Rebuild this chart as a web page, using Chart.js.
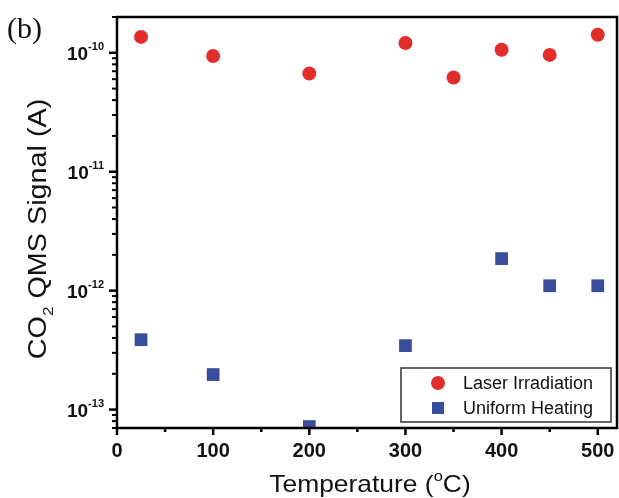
<!DOCTYPE html>
<html>
<head>
<meta charset="utf-8">
<script src="https://cdn.jsdelivr.net/npm/chart.js@4.4.0/dist/chart.umd.min.js"></script>
<style>
  html, body { margin: 0; padding: 0; background: #fff; }
  #wrap { width: 619px; height: 498px; }
</style>
</head>
<body>
<div id="wrap"><canvas id="chart" width="619" height="498"></canvas></div>
<script>
// data
const temps = [25, 100, 200, 300, 350, 400, 450, 500];
const laserSignal = [1.36e-10, 0.94e-10, 6.7e-11, 1.21e-10, 6.2e-11, 1.06e-10, 0.96e-10, 1.42e-10];
const heatTemps = [25, 100, 200, 300, 400, 450, 500];
const heatSignal = [3.87e-13, 1.97e-13, 7.2e-14, 3.45e-13, 1.86e-12, 1.1e-12, 1.1e-12];
const xTicks = [0, 100, 200, 300, 400, 500];
const yDecades = [-13, -12, -11, -10];

const RED = "#e22d2d";
const BLUE = "#3a4d9c";
const SANS = "Arial, 'Liberation Sans', sans-serif";

// text pieces with optional super/subscript, stretched a bit like the figure
function richText(ctx, parts, x, y, stretch) {
  let total = 0;
  parts.forEach(p => { ctx.font = p.font; total += ctx.measureText(p.text).width; });
  ctx.save();
  ctx.translate(x, y);
  ctx.scale(stretch, 1);
  let cx = -total / 2;
  parts.forEach(p => {
    ctx.font = p.font;
    ctx.fillText(p.text, cx, p.dy || 0);
    cx += ctx.measureText(p.text).width;
  });
  ctx.restore();
}

const decor = {
  id: "decor",
  afterDraw(chart) {
    const ctx = chart.ctx;
    const a = chart.chartArea;
    const xs = chart.scales.x, ys = chart.scales.y;
    ctx.save();
    ctx.strokeStyle = "#000";
    ctx.fillStyle = "#111";

    // frame
    ctx.lineWidth = 2.5;
    ctx.strokeRect(a.left, a.top, a.right - a.left, a.bottom - a.top);

    // x ticks
    for (let v = 0; v <= 520; v += 50) {
      const px = xs.getPixelForValue(v);
      const len = v % 100 === 0 ? 7 : 4;
      ctx.beginPath();
      ctx.moveTo(px, a.bottom);
      ctx.lineTo(px, a.bottom + len);
      ctx.stroke();
    }
    ctx.font = "bold 20px " + SANS;
    ctx.textAlign = "center";
    ctx.textBaseline = "alphabetic";
    xTicks.forEach(v => {
      ctx.fillText(String(v), xs.getPixelForValue(v), 457);
    });

    // y ticks
    ys.ticks.forEach(t => {
      const py = ys.getPixelForValue(t.value);
      ctx.lineWidth = t.major ? 2.5 : 2;
      ctx.beginPath();
      ctx.moveTo(a.left, py);
      ctx.lineTo(a.left - (t.major ? 8 : 5), py);
      ctx.stroke();
    });
    ctx.textAlign = "left";
    yDecades.forEach(e => {
      const py = ys.getPixelForValue(Math.pow(10, e));
      const exp = String(e);
      ctx.font = "bold 11px " + SANS;
      const ew = ctx.measureText(exp).width;
      ctx.font = "bold 19px " + SANS;
      const bw = ctx.measureText("10").width;
      const right = a.left - 13;
      ctx.fillText("10", right - ew - bw, py + 7);
      ctx.font = "bold 11px " + SANS;
      ctx.fillText(exp, right - ew, py - 3);
    });

    // x title
    ctx.textAlign = "left";
    richText(ctx, [
      { text: "Temperature (", font: "24px " + SANS },
      { text: "o", font: "15px " + SANS, dy: -11 },
      { text: "C)", font: "24px " + SANS }
    ], (a.left + a.right) / 2 + 3, 492, 1.1);

    // y title
    ctx.save();
    ctx.translate(46, 229);
    ctx.rotate(-Math.PI / 2);
    richText(ctx, [
      { text: "CO", font: "25px " + SANS },
      { text: "2", font: "15px " + SANS, dy: 7 },
      { text: " QMS Signal (A)", font: "25px " + SANS }
    ], 0, 0, 1.15);
    ctx.restore();

    // panel label
    ctx.font = "30px 'Times New Roman', 'Liberation Serif', serif";
    ctx.textAlign = "left";
    ctx.fillText("(b)", 7, 38);

    // legend
    const lx = 401, ly = 368, lw = 210, lh = 54;
    ctx.fillStyle = "#fff";
    ctx.fillRect(lx, ly, lw, lh);
    ctx.lineWidth = 1.5;
    ctx.strokeStyle = "#333";
    ctx.strokeRect(lx, ly, lw, lh);
    chart.data.datasets.forEach((ds, i) => {
      const cy = ly + 15 + i * 25;
      ctx.fillStyle = ds.backgroundColor;
      if (ds.pointStyle === "rect") {
        ctx.fillRect(438 - 6, cy - 6, 12, 12);
      } else {
        ctx.beginPath();
        ctx.arc(438, cy, 7, 0, Math.PI * 2);
        ctx.fill();
      }
      ctx.fillStyle = "#111";
      ctx.textBaseline = "middle";
      ctx.font = "18px " + SANS;
      ctx.fillText(ds.label, 463, cy + 1);
    });
    ctx.restore();
  }
};

new Chart(document.getElementById("chart"), {
  type: "scatter",
  data: {
    datasets: [
      {
        label: "Laser Irradiation",
        data: temps.map((t, i) => ({ x: t, y: laserSignal[i] })),
        backgroundColor: RED,
        borderColor: RED,
        pointStyle: "circle",
        pointRadius: 7,
        borderWidth: 0
      },
      {
        label: "Uniform Heating",
        data: heatTemps.map((t, i) => ({ x: t, y: heatSignal[i] })),
        backgroundColor: BLUE,
        borderColor: BLUE,
        pointStyle: "rect",
        pointRadius: 9,
        borderWidth: 0
      }
    ]
  },
  options: {
    responsive: false,
    animation: false,
    layout: { autoPadding: false, padding: { left: 117, top: 17, right: 2, bottom: 70 } },
    plugins: {
      legend: { display: false },
      tooltip: { enabled: false }
    },
    scales: {
      x: {
        type: "linear",
        min: 0,
        max: 520,
        ticks: { display: false },
        grid: { display: false },
        border: { display: false },
        afterFit(scale) { scale.height = 0; }
      },
      y: {
        type: "logarithmic",
        min: 7e-14,
        max: 2e-10,
        afterBuildTicks(scale) {
          const ticks = [];
          for (let e = -14; e <= -10; e++) {
            for (let m = 1; m <= 9; m++) {
              const v = m * Math.pow(10, e);
              if (v >= scale.min * 0.999 && v <= scale.max * 1.001) ticks.push({ value: v, major: m === 1 });
            }
          }
          scale.ticks = ticks;
        },
        ticks: { display: false },
        grid: { display: false },
        border: { display: false },
        afterFit(scale) { scale.width = 0; }
      }
    }
  },
  plugins: [decor]
});
</script>
</body>
</html>
